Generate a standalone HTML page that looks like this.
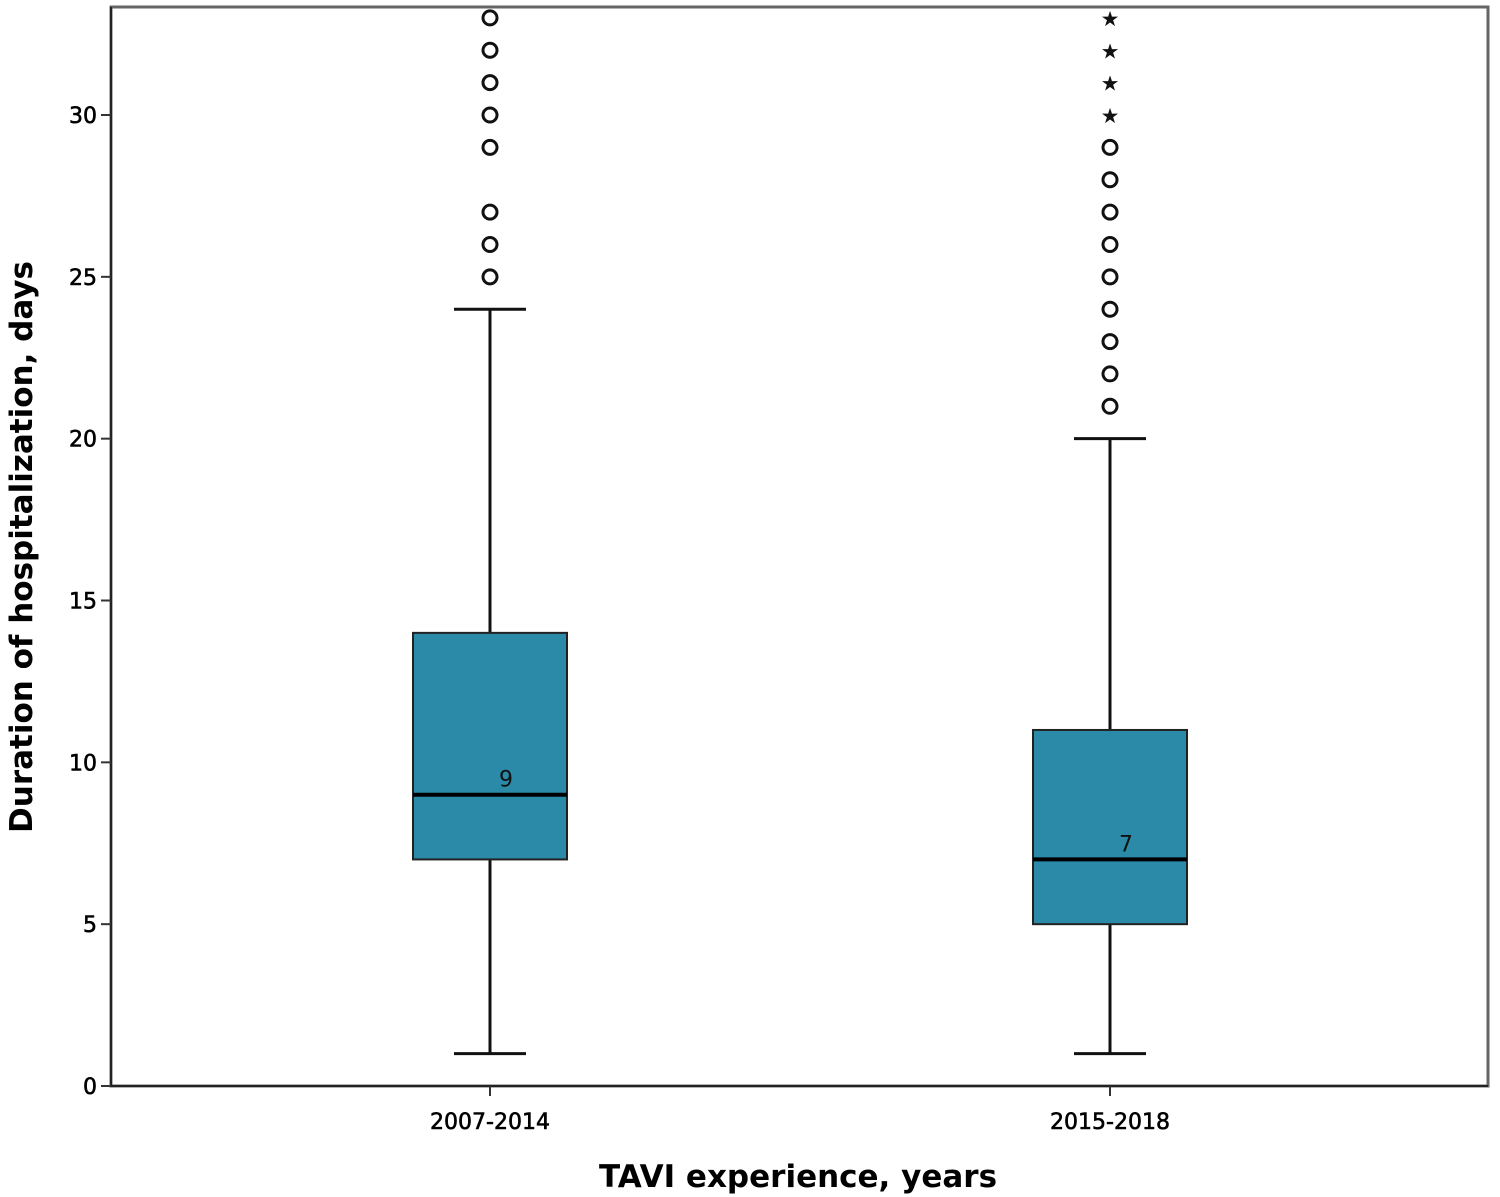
<!DOCTYPE html>
<html><head><meta charset="utf-8"><style>
body{margin:0;background:#fff}
svg{display:block;font-family:"DejaVu Sans","Liberation Sans",sans-serif}
</style></head><body>
<svg id="chart" width="1500" height="1197" viewBox="0 0 1500 1197"></svg>
<script>
const categories = ["2007-2014","2015-2018"];
const mins = [1,1];
const q1s = [7,5];
const medians = [9,7];
const q3s = [14,11];
const maxs = [24,20];
const circleOutliers = [[25,26,27,29,30,31,32,33],[21,22,23,24,25,26,27,28,29]];
const starOutliers = [[],[30,31,32,33]];
const yTicks = [0,5,10,15,20,25,30];

const NS="http://www.w3.org/2000/svg";
const svg=document.getElementById('chart');
const L=111,R=1488,T=7,B=1086;
const y=v=>B-v*(971/30);
const x=i=>490+i*620;
function mk(tag,attrs,parent){const e=document.createElementNS(NS,tag);for(const k in attrs)e.setAttribute(k,attrs[k]);(parent||svg).appendChild(e);return e;}

const frame=mk('rect',{x:L,y:T,width:R-L,height:B-T,fill:'none',stroke:'#666',"stroke-width":3});


mk('line',{x1:L,y1:T,x2:L,y2:B,stroke:'#222','stroke-width':2});
mk('line',{x1:L,y1:B,x2:R,y2:B,stroke:'#222','stroke-width':2});

yTicks.forEach(v=>{
  mk('line',{x1:L-10,y1:y(v),x2:L,y2:y(v),stroke:'#333','stroke-width':2});
  const t=mk('text',{x:L-14,y:y(v)+8,'text-anchor':'end','font-size':22,fill:'#000',stroke:'#000','stroke-width':0.6});
  t.textContent=v;
  
  
});

categories.forEach((c,i)=>{
  const cx=x(i);
  const g=mk('g',{});
  
  
  mk('line',{x1:cx,y1:y(mins[i]),x2:cx,y2:y(maxs[i]),stroke:'#111','stroke-width':3},g);
  mk('line',{x1:cx-36,y1:y(mins[i]),x2:cx+36,y2:y(mins[i]),stroke:'#111','stroke-width':3},g);
  mk('line',{x1:cx-36,y1:y(maxs[i]),x2:cx+36,y2:y(maxs[i]),stroke:'#111','stroke-width':3},g);
  mk('rect',{x:cx-77,y:y(q3s[i]),width:154,height:y(q1s[i])-y(q3s[i]),fill:'#2a8aa8',stroke:'#222','stroke-width':2},g);
  mk('line',{x1:cx-77,y1:y(medians[i]),x2:cx+77,y2:y(medians[i]),stroke:'#000','stroke-width':4},g);
  const mt=mk('text',{x:cx+16,y:y(medians[i])-8,'text-anchor':'middle','font-size':22,fill:'#111'},g);
  mt.textContent=medians[i];
  circleOutliers[i].forEach(v=>{
    const o=mk('circle',{cx:cx,cy:y(v),r:7,fill:'none',stroke:'#111','stroke-width':3},g);
    
    
  });
  starOutliers[i].forEach(v=>{
    const s=mk('text',{x:cx,y:y(v)+8,'text-anchor':'middle','font-size':21,fill:'#111'},g);
    s.textContent='★';
    
    
  });
  mk('line',{x1:cx,y1:B,x2:cx,y2:B+10,stroke:'#333','stroke-width':2});
  const xt=mk('text',{x:cx,y:1129,'text-anchor':'middle','font-size':22,fill:'#000',stroke:'#000','stroke-width':0.6});
  xt.textContent=c;
  
  
});

const xa=mk('text',{x:798,y:1187,'text-anchor':'middle','font-size':31,'font-weight':'bold',fill:'#000'});
xa.textContent='TAVI experience, years';


const ya=mk('text',{x:0,y:0,'text-anchor':'middle','font-size':31,'font-weight':'bold',fill:'#000',transform:'translate(32,547) rotate(-90)'});
ya.textContent='Duration of hospitalization, days';


</script>
</body></html>
